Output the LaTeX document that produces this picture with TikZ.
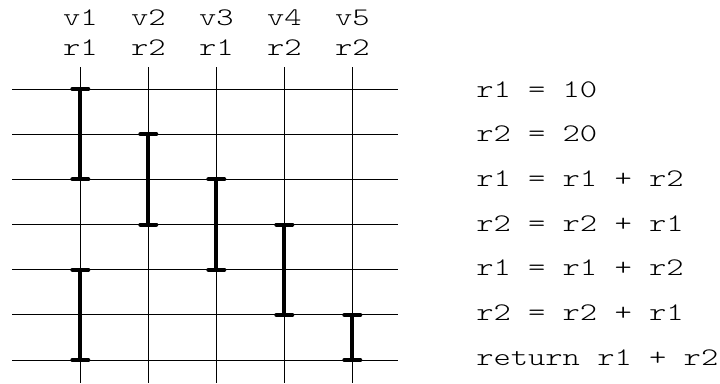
\documentclass[tikz,border=0pt]{standalone}
\usepackage{fontspec}
\newfontfamily\codefont{Latin Modern Mono Light}[FakeStretch=1.3]
\tikzset{
  grid line/.style={line width=0.75pt},
  live bar/.style={line width=3pt},
  live tick/.style={line width=3pt, line cap=round},
  code text/.style={inner sep=0pt, font=\codefont\fontsize{19}{22}\selectfont},
}
\begin{document}
\begin{tikzpicture}[x=0.75pt,y=0.75pt,yscale=-1,xscale=1]
\useasboundingbox (0,0) rectangle (720,383);

% Horizontal lines (one per instruction)
\foreach \i in {0,...,6}{
  \coordinate (hl\i) at (12,89+45.17*\i);
  \coordinate (hr\i) at (398,89+45.17*\i);
  \draw [grid line] (hl\i) -- (hr\i);
}

% Vertical lines and column labels
\foreach \c/\r in {1/r1,2/r2,3/r1,4/r2,5/r2}{
  \coordinate (vt\c) at (80.3+68*\c-68,67);
  \coordinate (vb\c) at (80.3+68*\c-68,383);
  \draw [grid line] (vt\c) -- (vb\c);
  % Text Node
  \node [code text, anchor=base] (name\c) at (80.3+68*\c-68,25) {v\c};
  % Text Node
  \node [code text, anchor=base] (reg\c) at (80.3+68*\c-68,55) {\r};
}

% Live ranges
\foreach \c/\a/\b in {1/0/2,1/4/6,2/1/3,3/2/4,4/3/5,5/5/6}{
  \coordinate (top) at (80.3+68*\c-68,89+45.17*\a);
  \coordinate (bot) at (80.3+68*\c-68,89+45.17*\b);
  \draw [live bar] (top) -- (bot);
  \draw [live tick] ([xshift=-6pt]top) -- ([xshift=6pt]top);
  \draw [live tick] ([xshift=-6pt]bot) -- ([xshift=6pt]bot);
}

% Code
\foreach \i/\t in {0/r1 = 10,1/r2 = 20,2/r1 = r1 + r2,3/r2 = r2 + r1,4/r1 = r1 + r2,5/r2 = r2 + r1,6/return r1 + r2}{
  % Text Node
  \node [code text, anchor=base west] (line\i) at (476,97+44.7*\i) {\t};
}

\end{tikzpicture}
\end{document}
